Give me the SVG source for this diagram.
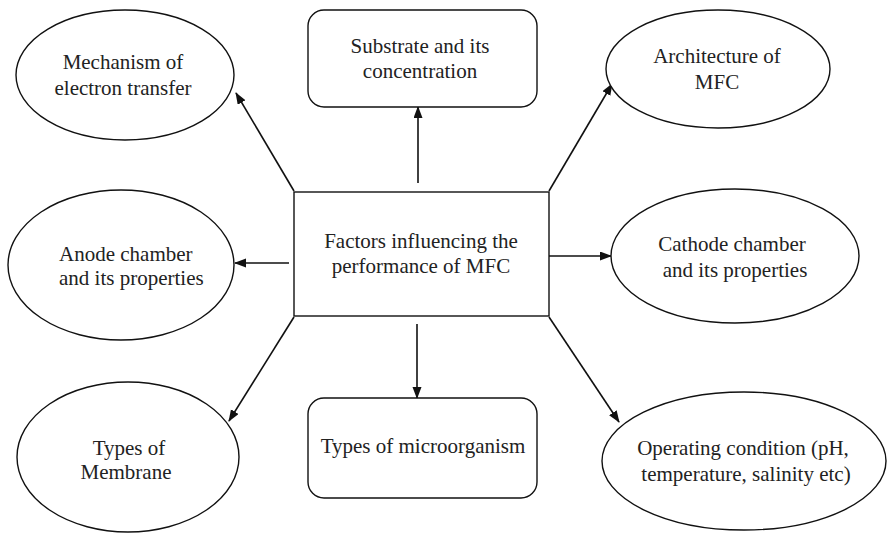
<svg xmlns="http://www.w3.org/2000/svg" width="887" height="533" viewBox="0 0 887 533">
<style>
.n{fill:#fff;stroke:#111;stroke-width:1.4}
.t{font-size:21px;fill:#222;text-anchor:middle}
.c{stroke:#111;stroke-width:1.6;fill:none;marker-end:url(#ah)}
</style>
<defs>
<marker id="ah" markerUnits="userSpaceOnUse" markerWidth="12" markerHeight="10" refX="11" refY="4.5" orient="auto">
<path d="M0,0 L12,4.5 L0,9 Z" fill="#111"/>
</marker>
</defs>
<rect width="887" height="533" fill="#fff"/>
<g id="connectors">
<line class="c" x1="294" y1="191" x2="236" y2="93"/>
<line class="c" x1="418" y1="183" x2="418" y2="107"/>
<line class="c" x1="549" y1="191" x2="612" y2="84"/>
<line class="c" x1="289" y1="263" x2="235" y2="263"/>
<line class="c" x1="549" y1="256" x2="611" y2="256"/>
<line class="c" x1="294" y1="317" x2="229" y2="421"/>
<line class="c" x1="417" y1="324" x2="417" y2="398"/>
<line class="c" x1="549" y1="317" x2="619" y2="422"/>
</g>
<g font-family="'Liberation Serif', 'Times New Roman', Tinos, 'DejaVu Serif', serif">
<g id="center">
<rect class="n" x="294" y="192" width="255" height="124"/>
<text class="t" x="421" y="248">Factors influencing the</text>
<text class="t" x="421" y="273">performance of MFC</text>
</g>
<g id="mechanism">
<ellipse class="n" cx="125" cy="75" rx="109" ry="65"/>
<text class="t" x="123" y="69">Mechanism of</text>
<text class="t" x="123" y="95">electron transfer</text>
</g>
<g id="substrate">
<rect class="n" x="308" y="10" width="229" height="97" rx="16"/>
<text class="t" x="420" y="53">Substrate and its</text>
<text class="t" x="420" y="78">concentration</text>
</g>
<g id="architecture">
<ellipse class="n" cx="718" cy="69" rx="112" ry="59"/>
<text class="t" x="717" y="63">Architecture of</text>
<text class="t" x="717" y="89">MFC</text>
</g>
<g id="anode">
<ellipse class="n" cx="121" cy="265" rx="113" ry="75"/>
<text class="t" x="59" y="261" style="text-anchor:start">Anode chamber</text>
<text class="t" x="59" y="285" style="text-anchor:start">and its properties</text>
</g>
<g id="cathode">
<ellipse class="n" cx="735" cy="256" rx="124" ry="67"/>
<text class="t" x="732" y="251">Cathode chamber</text>
<text class="t" x="735" y="277">and its properties</text>
</g>
<g id="membrane">
<ellipse class="n" cx="128" cy="457" rx="111" ry="75"/>
<text class="t" x="129" y="455">Types of</text>
<text class="t" x="126" y="479">Membrane</text>
</g>
<g id="microorganism">
<rect class="n" x="308" y="398" width="229" height="100" rx="16"/>
<text class="t" x="423" y="453">Types of microorganism</text>
</g>
<g id="operating">
<ellipse class="n" cx="744" cy="461" rx="142" ry="69"/>
<text class="t" x="743" y="455">Operating condition (pH,</text>
<text class="t" x="746" y="481">temperature, salinity etc)</text>
</g>
</g>
</svg>
